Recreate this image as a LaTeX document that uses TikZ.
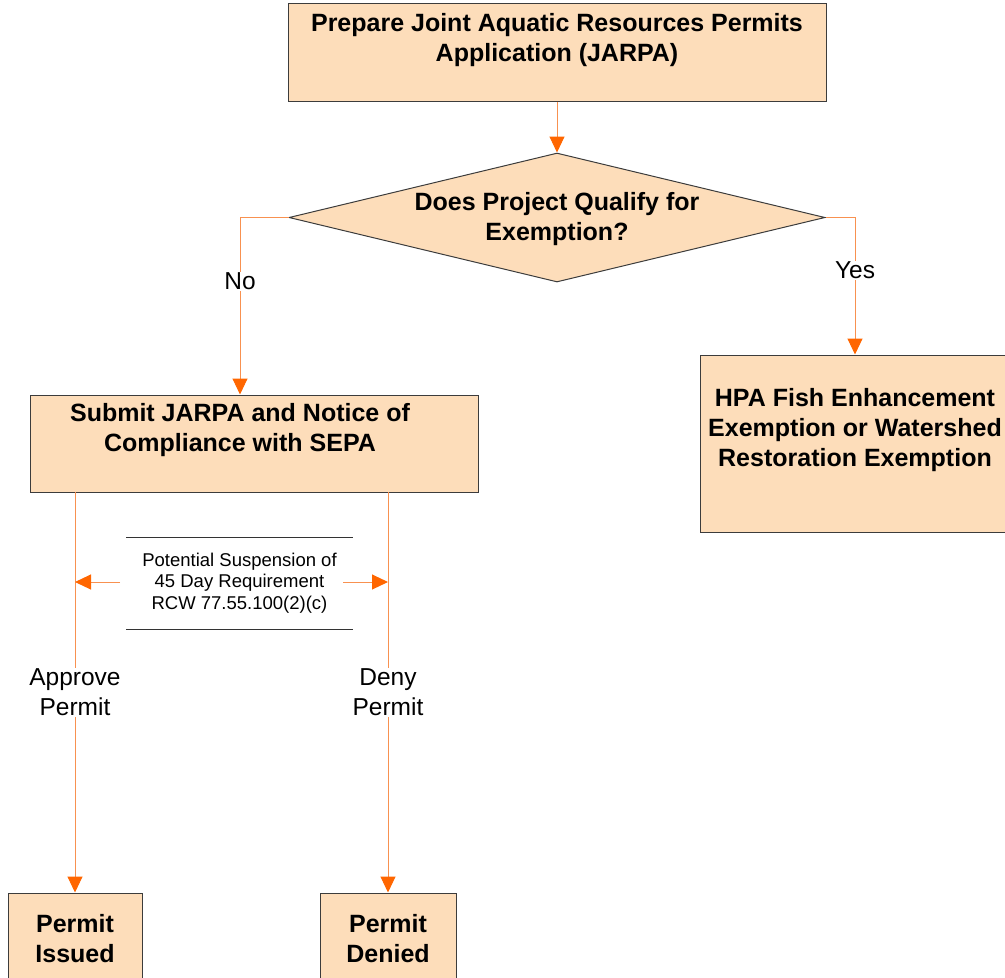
\documentclass[tikz,border=0pt]{standalone}
\usepackage{fontspec}
\setmainfont{Liberation Sans}
\usetikzlibrary{arrows.meta,shapes.geometric,calc}
\definecolor{peach}{RGB}{253,221,186}
\definecolor{lineor}{RGB}{248,145,80}
\definecolor{tipor}{RGB}{255,102,0}
\definecolor{edge}{RGB}{60,60,60}
\tikzset{
  box/.style={draw=edge,fill=peach,line width=1pt,inner sep=0pt,minimum width=#1},
  dia/.style={diamond,draw=edge,fill=peach,line width=1pt,inner sep=0pt},
  btxt/.style={align=center,inner sep=0pt,font=\fontsize{25}{30}\selectfont\bfseries},
  lbl/.style={align=center,fill=white,inner sep=1pt,font=\fontsize{24.5}{29.5}\selectfont},
  stxt/.style={align=center,inner sep=0pt,font=\fontsize{18.5}{21.7}\selectfont},
  conn/.style={draw=lineor,line width=1pt,-{Triangle[length=16pt,width=15pt,color=tipor]}},
  rule/.style={draw=black!80,line width=1pt}
}
\begin{document}
\begin{tikzpicture}[x=1pt,y=-1pt]
\useasboundingbox (0,0) rectangle (1005,978);
% boxes
\node[box=538pt,minimum height=98pt] (top) at (557,52) {};
\node[btxt] (toptx) at (557,40) {Prepare Joint Aquatic Resources Permits\\Application (JARPA)};
\node[dia,minimum width=536pt,minimum height=129pt] (q) at (557,217.5) {};
\node[btxt] (qtx) at (557,219.5) {Does Project Qualify for\\Exemption?};
\node[box=448pt,minimum height=97pt] (sub) at (254,443.5) {};
\node[btxt] (subtx) at (240,430.5) {Submit JARPA and Notice of\\Compliance with SEPA};
\node[box=310pt,minimum height=177pt] (hpa) at (855,443.5) {};
\node[btxt] (hpatx) at (855,430.5) {HPA Fish Enhancement\\Exemption or Watershed\\Restoration Exemption};
\node[box=134pt,minimum height=100pt] (iss) at (75,943) {};
\node[btxt] (isstx) at (75,938.5) {Permit\\Issued};
\node[box=136pt,minimum height=100pt] (den) at (388,943) {};
\node[btxt] (dentx) at (388,938.5) {Permit\\Denied};
% connectors
\draw[conn] (top.south) -- (q.north);
\draw[conn] (q.west) -| node[pos=0.68,lbl]{No} ([xshift=-14pt]sub.north);
\draw[conn] (q.east) -| node[pos=0.692,lbl]{Yes} (hpa.north);
\coordinate (sl) at (75,492);
\coordinate (sr) at (388,492);
\draw[conn] (sl) -- node[pos=0.5,lbl]{Approve\\Permit} (iss.north);
\draw[conn] (sr) -- node[pos=0.5,lbl]{Deny\\Permit} (den.north);
% suspension note
\node[stxt] (susp) at (239.5,583) {Potential Suspension of\\45 Day Requirement\\RCW 77.55.100(2)(c)};
\draw[rule] (126,537) -- (353,537);
\draw[rule] (126,629) -- (353,629);
\coordinate (la) at (120,582);
\coordinate (ra) at (343,582);
\draw[conn] (la) -- (la -| iss.north);
\draw[conn] (ra) -- (ra -| den.north);
\end{tikzpicture}
\end{document}
